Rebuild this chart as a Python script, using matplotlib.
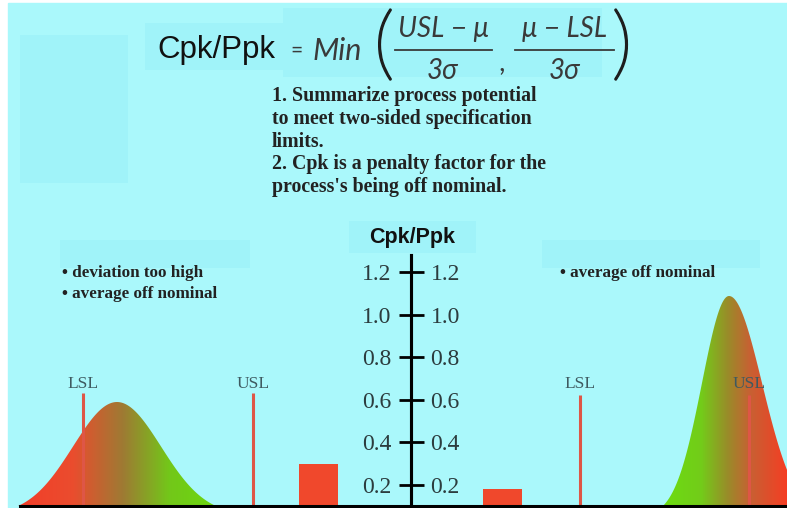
import numpy as np
import matplotlib.pyplot as plt
import matplotlib.patheffects as pe
from matplotlib.colors import LinearSegmentedColormap
from matplotlib.patches import Rectangle

# Cpk/Ppk scale and the two example bars
tick_values = [0.2, 0.4, 0.6, 0.8, 1.0, 1.2]
bar_names = ['too wide and off nominal', 'off nominal']
bar_cpk = [0.30, 0.18]

formula_left = 'Cpk/Ppk'
formula_num = ['USL \u2212 \u03bc', '\u03bc \u2212 LSL']
formula_den = ['3\u03c3', '3\u03c3']
notes = ['1. Summarize process potential',
         'to meet two-sided specification',
         'limits.',
         '2. Cpk is a penalty factor for the',
         "process's being off nominal."]
left_bullets = ['\u2022 deviation too high', '\u2022 average off nominal']
right_bullets = ['\u2022 average off nominal']

# layout (pixels of a 787x508 picture)
W, H = 787, 508
base_px = 506          # baseline of curves / bars
zero_px = 527.6        # where Cpk = 0 would sit
px_per_unit = 213.0
axis_x = 411
bar_x = [318, 502]
bar_w = 39
limits_left = {'LSL': 83, 'USL': 253}
limits_right = {'LSL': 580, 'USL': 749}

bg = '#aaf8fb'
box = '#a0f3f9'
red_line = '#de5646'
bar_red = '#f0482c'
serif = 'Liberation Serif'
grey = '#3a3a3a'

fig = plt.figure(figsize=(W / 100, H / 100), dpi=100, facecolor='white')

# canvas in pixel coordinates
cv = fig.add_axes([0, 0, 1, 1])
cv.axis('off')
cv.add_patch(Rectangle((8, 3), W - 8, H - 3, color=bg, zorder=0))
for (x, y, w, h) in [(20, 35, 108, 148), (145, 23, 138, 47), (283, 8, 319, 69),
                     (60, 240, 190, 28), (349, 221, 127, 32), (542, 240, 218, 28)]:
    cv.add_patch(Rectangle((x, y), w, h, color=box, lw=0, zorder=1))


def bell(mu, s_left, s_right, peak, x0, x1, stops, cut):
    xs = np.linspace(x0, x1, 400)
    s = np.where(xs < mu, s_left, s_right)
    g = np.exp(-0.5 * ((xs - mu) / s) ** 2)
    h = peak * np.clip((g - cut) / (1 - cut), 0, None)
    fill = cv.fill_between(xs, base_px, base_px - h, color='none', lw=0)
    cmap = LinearSegmentedColormap.from_list('grad', stops)
    grad = np.linspace(0, 1, 256).reshape(1, -1)
    im = cv.imshow(grad, cmap=cmap, extent=(x0, x1, base_px, base_px - peak - 2),
                   aspect='auto', zorder=2, interpolation='bilinear')
    im.set_clip_path(fill.get_paths()[0], transform=cv.transData)


bell(117, 44, 44, 104, 18, 228,
     [(0, (0.95, 0.24, 0.16)), (0.26, (0.92, 0.3, 0.18)), (0.5, (0.62, 0.48, 0.2)),
      (0.72, (0.45, 0.78, 0.1)), (1, (0.42, 0.86, 0.05))], 0.08)
bell(729, 27, 33, 210, 655, W,
     [(0, (0.42, 0.88, 0.06)), (0.35, (0.45, 0.8, 0.1)), (0.55, (0.6, 0.55, 0.16)),
      (0.72, (0.78, 0.38, 0.2)), (1, (0.96, 0.24, 0.14))], 0.05)

for lims, top in [(limits_left, 393), (limits_right, 395)]:
    for name, x in lims.items():
        cv.plot([x, x], [top, base_px], color=red_line, lw=2.2, zorder=3,
                solid_capstyle='butt')
        cv.text(x, 384, name, ha='center', va='center', fontsize=12.5,
                family=serif, color='#3e5a60', zorder=4)

# formula
cv.text(157, 58, formula_left, fontsize=22.5, family='Liberation Sans',
        color='#111111', va='baseline')
cv.text(297, 51, '=', fontsize=15, family='Lato', color=grey,
        ha='center', va='center')
cv.text(312, 60, 'Min', fontsize=22, family='Lato', style='italic',
        color=grey, va='baseline')
thick = [pe.withStroke(linewidth=1.6, foreground='#1e1e1e')]
cv.text(384, 48, '(', fontsize=58, family='Lato', weight='light',
        color='#1e1e1e', ha='center', va='center', path_effects=thick)
cv.text(622, 48, ')', fontsize=58, family='Lato', weight='light',
        color='#1e1e1e', ha='center', va='center', path_effects=thick)
for cx, x0, x1, num, den in zip([443, 565], [395, 515], [492, 614],
                                formula_num, formula_den):
    cv.text(cx, 37, num, fontsize=20, family='Lato', style='italic',
            color=grey, ha='center', va='baseline')
    cv.plot([x0, x1], [50, 50], color=grey, lw=1.3)
    cv.text(cx, 79, den, fontsize=20, family='Lato', style='italic',
            color=grey, ha='center', va='baseline')
cv.text(503, 62, ',', fontsize=20, family='Lato', style='italic',
        color=grey, ha='center', va='center')

for i, line in enumerate(notes):
    cv.text(272, 96 + i * 22.8, line, fontsize=14.3, family=serif,
            weight='bold', color='#222222', va='center')
for i, line in enumerate(left_bullets):
    cv.text(62, 273 + i * 21.5, line, fontsize=12.3, family=serif,
            weight='bold', color='#222222', va='center')
for i, line in enumerate(right_bullets):
    cv.text(560, 273 + i * 21.5, line, fontsize=12.3, family=serif,
            weight='bold', color='#222222', va='center')
cv.text(412, 237, 'Cpk/Ppk', fontsize=15.5, family='Liberation Sans',
        weight='bold', color='#111111', ha='center', va='center')

cv.set_xlim(0, W)
cv.set_ylim(H, 0)

# Cpk/Ppk scale axes


def px_to_cpk(y):
    return (zero_px - y) / px_per_unit


ax = fig.add_axes([0, 0, 1, 1], facecolor='none')
ax.set_xlim(0, W)
ax.set_ylim(px_to_cpk(H), px_to_cpk(0))
base = px_to_cpk(base_px)
ax.bar(bar_x, [v - base for v in bar_cpk], bottom=base, width=bar_w,
       color=bar_red, zorder=2)

for side in ['left', 'right']:
    ax.spines[side].set_position(('data', axis_x))
    ax.spines[side].set_bounds(px_to_cpk(H), px_to_cpk(255))
    ax.spines[side].set_linewidth(2.2)
ax.spines['top'].set_visible(False)
ax.spines['bottom'].set_position(('data', base))
ax.spines['bottom'].set_bounds(20, W)
ax.spines['bottom'].set_linewidth(2.2)
ax.set_xticks([])
ax.set_yticks(tick_values)
ax.set_yticklabels([f'{v:.1f}' for v in tick_values])
ax.tick_params(axis='y', left=True, right=True, labelleft=True, labelright=True,
               direction='out', length=9, width=2, pad=5, labelsize=17,
               labelcolor='#2c3c3e')
for lab in ax.get_yticklabels():
    lab.set_family(serif)

fig.savefig('out.png', dpi=100, facecolor='white')
